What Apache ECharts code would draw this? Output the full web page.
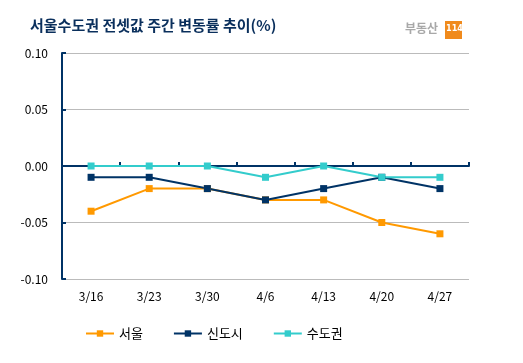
<!DOCTYPE html>
<html><head><meta charset="utf-8">
<script src="https://cdn.jsdelivr.net/npm/echarts@6/dist/echarts.min.js"></script>
<style>html,body{margin:0;padding:0;background:#fff}#c{width:523px;height:363px}</style>
</head><body><div id="c"></div>
<script>
const categories = ['3/16','3/23','3/30','4/6','4/13','4/20','4/27'];
const seoul = [-0.04,-0.02,-0.02,-0.03,-0.03,-0.05,-0.06];
const newTown = [-0.01,-0.01,-0.02,-0.03,-0.02,-0.01,-0.02];
const capital = [0,0,0,-0.01,0,-0.01,-0.01];
const yTicks = [-0.10,-0.05,0.00,0.05,0.10];

const font = '"Noto Sans CJK KR", "DejaVu Sans", sans-serif';
const chart = echarts.init(document.getElementById('c'));
function mk(name, data, color){
  return {name, type:'line', data, xAxisIndex:0, color,
    symbol:'rect', symbolSize:7, showSymbol:true,
    lineStyle:{width:2,color}, itemStyle:{color}, animation:false};
}
chart.setOption({
  animation:false,
  textStyle:{fontFamily:font},
  graphic:[
    {type:'text', left:30, top:18, style:{text:'서울수도권 전셋값 주간 변동률 추이(%)', font:'bold 15px '+font, fill:'#0a2f5c'}},
    {type:'text', left:405, top:22, style:{text:'부동산', font:'bold 12px '+font, fill:'#a8a8a8'}},
    {type:'rect', shape:{x:445,y:21,width:17,height:18}, style:{fill:'#f08a1c'}},
    {type:'text', left:446, top:24, style:{text:'114', font:'bold 9px "Liberation Sans Narrow", "DejaVu Sans Condensed", sans-serif', fill:'#fff'}}
  ],
  grid:{left:62,right:54,top:53,bottom:84},
  legend:{left:80, top:322, itemWidth:28, itemHeight:8, itemGap:30,
    textStyle:{fontSize:13,color:'#000',fontFamily:font},
    data:['서울','신도시','수도권']},
  xAxis:[
    {type:'category', data:categories, boundaryGap:true, position:'bottom',
     axisLine:{show:false,onZero:false}, axisTick:{show:false},
     axisLabel:{fontSize:12,color:'#000',margin:11}, splitLine:{show:false}},
    {type:'category', data:categories, boundaryGap:true, position:'top',
     axisLine:{show:true,onZero:true,lineStyle:{color:'#003366',width:2}},
     axisTick:{show:true,inside:false,length:4,lineStyle:{color:'#003366',width:2}},
     axisLabel:{show:false}, splitLine:{show:false}}
  ],
  yAxis:{type:'value', min:-0.1, max:0.1, interval:0.05,
    axisLine:{show:true,lineStyle:{color:'#003366',width:2}},
    axisTick:{show:true,inside:true,length:4,lineStyle:{color:'#003366',width:2}},
    axisLabel:{fontSize:12,color:'#000',margin:14,formatter:v=>{
      const t = yTicks.find(x=>Math.abs(x-v)<1e-9); return (t===undefined?v:t).toFixed(2);}},
    splitLine:{show:true,lineStyle:{color:'#bbbbbb',width:1}}},
  series:[
    mk('서울', seoul, '#ff9900'),
    mk('신도시', newTown, '#003366'),
    mk('수도권', capital, '#33cccc')
  ]
});
</script></body></html>
